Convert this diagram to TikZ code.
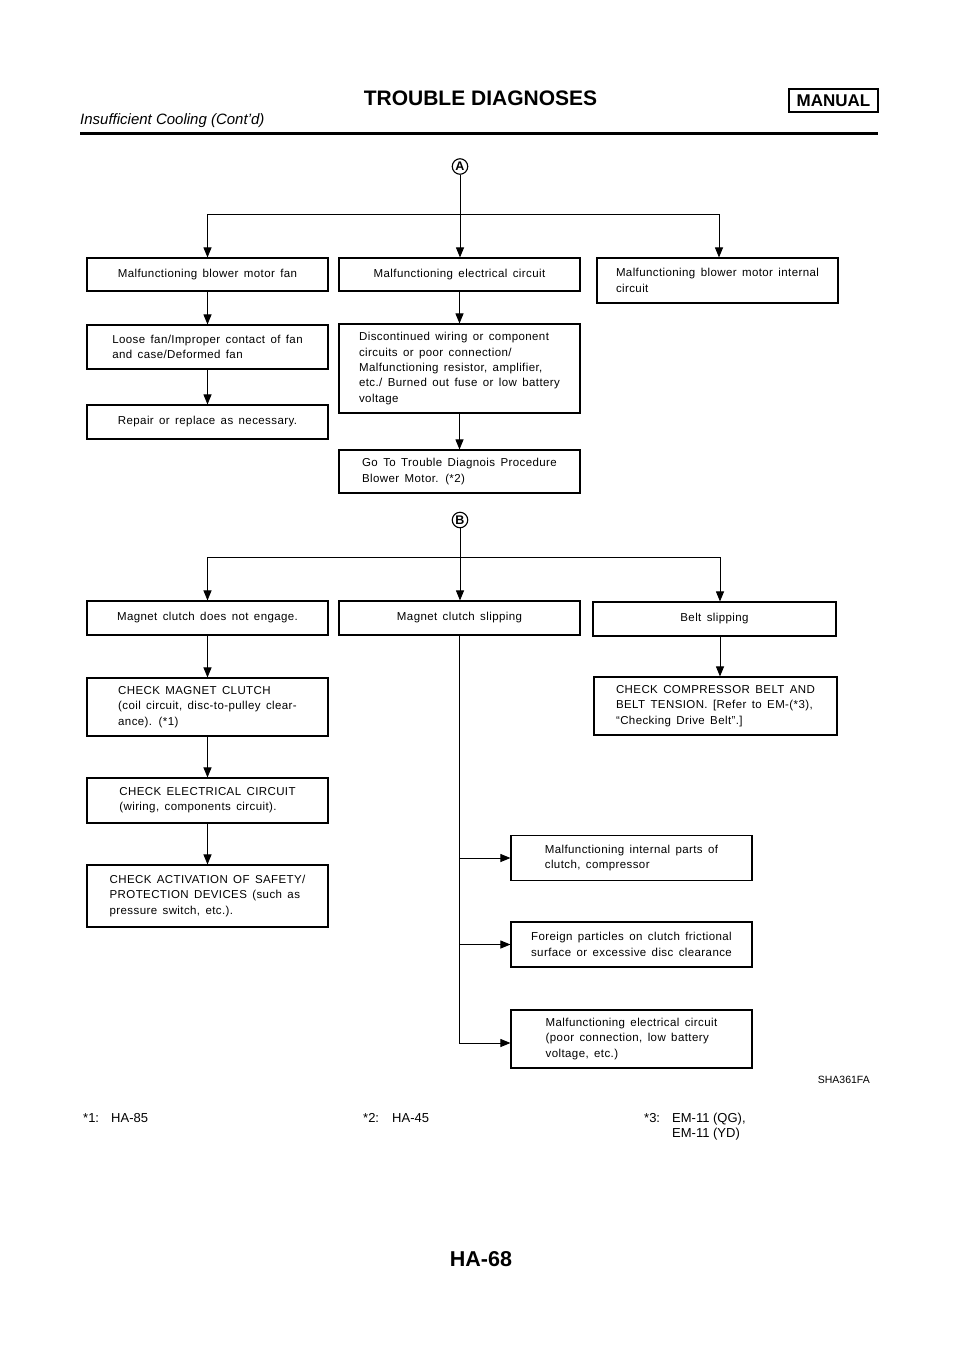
\documentclass[tikz,border=0pt]{standalone}
\usepackage{fontspec}
\setmainfont{Liberation Sans}
\newfontfamily\boxfont[LetterSpace=3.5,WordSpace=1.5]{Liberation Sans}
\usetikzlibrary{arrows.meta}

\tikzset{
  box/.style={draw, line width=1.1pt, minimum width=241pt, minimum height=33pt,
    inner sep=0pt, align=left, font=\boxfont\fontsize{11.5}{15.3}\selectfont},
  flow/.style={line width=0.9pt, -{Triangle[width=8pt,length=10pt]}},
  tag/.style={circle, draw, line width=1.1pt, minimum size=15.5pt, inner sep=0pt,
    font=\bfseries\fontsize{12.5}{12.5}\selectfont},
  foot/.style={anchor=base west, inner sep=0pt, font=\fontsize{13}{15}\selectfont}
}

\begin{document}
\begin{tikzpicture}[x=1pt, y=-1pt]
\useasboundingbox (0,0) rectangle (960,1358);

% page header
\node[anchor=base, inner sep=0pt, font=\bfseries\fontsize{21}{21}\selectfont] (title) at (480.5,105) {TROUBLE DIAGNOSES};
\node[draw, line width=1.3pt, minimum width=89pt, minimum height=23pt, inner sep=0pt, font=\bfseries\fontsize{17}{17}\selectfont] (manual) at (833.5,100.5) {MANUAL};
\node[anchor=base west, inner sep=0pt, font=\itshape\fontsize{15}{15}\selectfont] (sub) at (80,124) {Insufficient Cooling (Cont’d)};
\draw[line width=3pt] (80,133.5) -- (878,133.5);

% chart A
\node[tag] (tagA) at (460,166.5) {A};
\node[box] (fan) at (207.5,274.5) {Malfunctioning blower motor fan};
\node[box] (elec) at (459.5,274.5) {Malfunctioning electrical circuit};
\node[box, minimum height=45pt] (intern) at (717.5,280.5) {Malfunctioning blower motor internal\\circuit};
\node[box, minimum height=44pt] (loose) at (207.5,347) {Loose fan/Improper contact of fan\\and case/Deformed fan};
\node[box, minimum height=34pt] (repair) at (207.5,422) {Repair or replace as necessary.};
\node[box, minimum height=89pt] (wiring) at (459.5,368.5) {Discontinued wiring or component\\circuits or poor connection/\\Malfunctioning resistor, amplifier,\\etc./ Burned out fuse or low battery\\voltage};
\node[box, minimum height=43pt] (goto) at (459.5,471.5) {Go To Trouble Diagnois Procedure\\Blower Motor. (*2)};

\coordinate (splitA) at (460,214);
\draw[flow] (tagA) -- (tagA |- elec.north);
\draw[flow] (splitA) -| (fan.north);
\draw[flow] (splitA) -| ([xshift=1.5pt]intern.north);
\draw[flow] (fan) -- (loose);
\draw[flow] (loose) -- (repair);
\draw[flow] (elec) -- (wiring);
\draw[flow] (wiring) -- (goto);

% chart B
\node[tag] (tagB) at (460,520) {B};
\node[box, minimum height=34pt] (engage) at (207.5,618) {Magnet clutch does not engage.};
\node[box, minimum height=34pt] (slip) at (459.5,618) {Magnet clutch slipping};
\node[box, minimum width=243pt, minimum height=34pt] (belt) at (714.5,619) {Belt slipping};
\node[box, minimum height=58pt] (chkmag) at (207.5,707) {CHECK MAGNET CLUTCH\\(coil circuit, disc-to-pulley clear-\\ance). (*1)};
\node[box, minimum width=243pt, minimum height=58pt] (chkbelt) at (715.5,706) {CHECK COMPRESSOR BELT AND\\BELT TENSION. [Refer to EM-(*3),\\“Checking Drive Belt”.]};
\node[box, minimum height=45pt] (chkelec) at (207.5,800.5) {CHECK ELECTRICAL CIRCUIT\\(wiring, components circuit).};
\node[box, minimum height=62pt] (chksafe) at (207.5,896) {CHECK ACTIVATION OF SAFETY/\\PROTECTION DEVICES (such as\\pressure switch, etc.).};
\node[box, minimum height=45pt] (parts) at (631.5,858) {Malfunctioning internal parts of\\clutch, compressor};
\node[box, minimum height=45pt] (dirt) at (631.5,944.5) {Foreign particles on clutch frictional\\surface or excessive disc clearance};
\node[box, minimum height=58pt] (elecB) at (631.5,1039) {Malfunctioning electrical circuit\\(poor connection, low battery\\voltage, etc.)};

\coordinate (splitB) at (460,557.5);
\draw[flow] (tagB) -- (tagB |- slip.north);
\draw[flow] (splitB) -| (engage.north);
\draw[flow] (splitB) -| ([xshift=5.5pt]belt.north);
\draw[flow] (engage) -- (chkmag);
\draw[flow] ([xshift=5.5pt]belt.south) -- ([xshift=4.5pt]chkbelt.north);
\draw[flow] (chkmag) -- (chkelec);
\draw[flow] (chkelec) -- (chksafe);
\draw[flow] (slip.south) |- ([yshift=-4pt]elecB.west);
\draw[flow] (slip.south |- parts.west) -- (parts.west);
\draw[flow] (slip.south |- dirt.west) -- (dirt.west);

\node[anchor=base east, inner sep=0pt, font=\fontsize{10.5}{10.5}\selectfont] (code) at (870,1083) {SHA361FA};

% references
\node[foot] (ref1) at (83,1122) {*1:};
\node[foot] (ref1t) at (111,1122) {HA-85};
\node[foot] (ref2) at (363,1122) {*2:};
\node[foot] (ref2t) at (392,1122) {HA-45};
\node[foot] (ref3) at (644,1122) {*3:};
\node[foot] (ref3t) at (672,1122) {EM-11 (QG),};
\node[foot] (ref3u) at (672,1137) {EM-11 (YD)};

\node[anchor=base, inner sep=0pt, font=\bfseries\fontsize{21.5}{21.5}\selectfont] (page) at (481,1266) {HA-68};
\end{tikzpicture}
\end{document}
